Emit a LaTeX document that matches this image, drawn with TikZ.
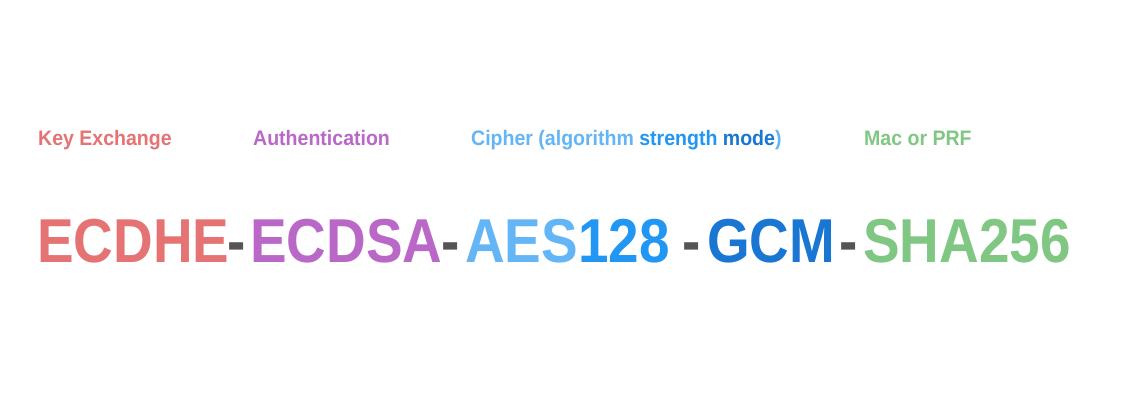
\documentclass[tikz,border=0pt]{standalone}
\usepackage{fontspec}
\setmainfont{Liberation Sans}[FakeStretch=0.93]
\newfontfamily\suitefont{Liberation Sans}[FakeStretch=0.885]
\usetikzlibrary{positioning}

\definecolor{kexred}{HTML}{E57373}
\definecolor{authpurple}{HTML}{BA68C8}
\definecolor{cipherlight}{HTML}{64B5F6}
\definecolor{ciphermid}{HTML}{2196F3}
\definecolor{cipherdark}{HTML}{1976D2}
\definecolor{macgreen}{HTML}{81C784}
\definecolor{dashgray}{HTML}{555555}

\tikzset{
  part label/.style={font=\bfseries\fontsize{21}{21}\selectfont, inner sep=0pt, anchor=base west},
  suite part/.style={font=\suitefont\bfseries\fontsize{62}{62}\selectfont, inner sep=0pt, anchor=base west},
  suite dash/.style={suite part, anchor=base, text=dashgray}
}

\begin{document}
\begin{tikzpicture}[x=1pt,y=-1pt]
\useasboundingbox[fill=white] (0,0) rectangle (1145,420);

% what each part stands for
\node[part label, text=kexred] (kex) at (38,145) {Key Exchange};
\node[part label, text=authpurple] (auth) at (253,145) {Authentication};
\node[part label, text=cipherlight] (cipher) at (471,145)
  {Cipher (algorithm \textcolor{ciphermid}{strength} \textcolor{cipherdark}{mode})};
\node[part label, text=macgreen] (mac) at (864,145) {Mac or PRF};

% the suite name
\node[suite part, text=kexred] (ecdhe) at (37,262) {ECDHE};
\node[suite dash] (d1) at (237,262) {-};
\node[suite part, text=authpurple] (ecdsa) at (250,262) {ECDSA};
\node[suite dash] (d2) at (451,262) {-};
\node[suite part, text=cipherlight] (aes) at (465,262) {AES\textcolor{ciphermid}{128}};
\node[suite dash] (d3) at (692,262) {-};
\node[suite part, text=cipherdark] (gcm) at (707,262) {GCM};
\node[suite dash] (d4) at (849,262) {-};
\node[suite part, text=macgreen] (sha) at (863,262) {SHA256};
\end{tikzpicture}
\end{document}
